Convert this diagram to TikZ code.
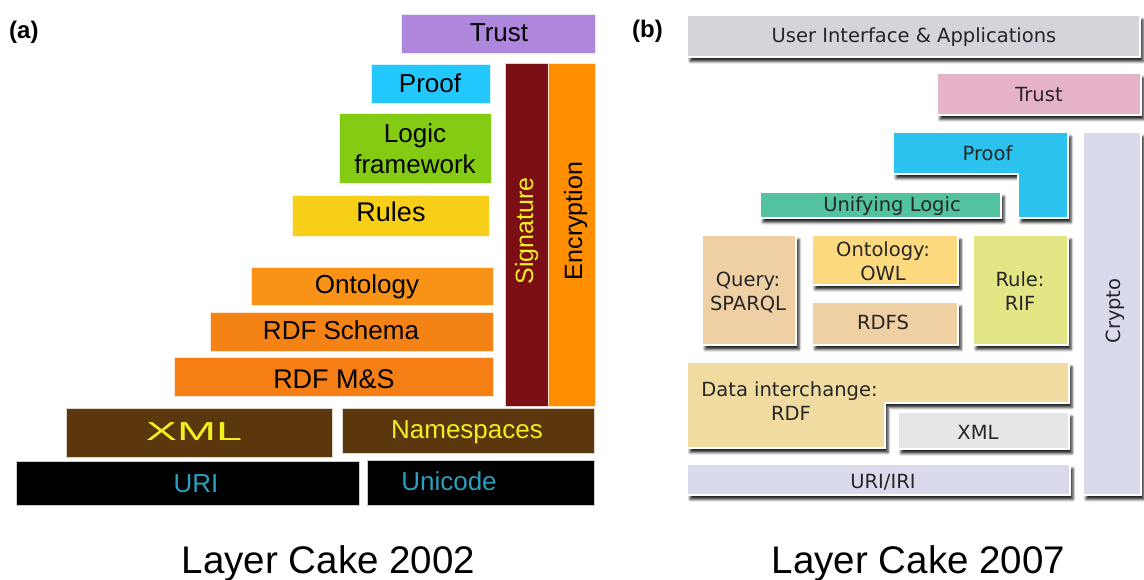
\documentclass[tikz,border=0pt]{standalone}
\usepackage{fontspec}
\setmainfont{Liberation Sans}
\newfontfamily\verd{DejaVu Sans}
\usetikzlibrary{shadows.blur}

% 2002 stack colours
\definecolor{aTrust}{HTML}{AE86DB}
\definecolor{aProof}{HTML}{21C7FD}
\definecolor{aLogic}{HTML}{84CC14}
\definecolor{aRules}{HTML}{F8CF18}
\definecolor{aOnto}{HTML}{F89318}
\definecolor{aRdfs}{HTML}{F58215}
\definecolor{aRdfms}{HTML}{F57F14}
\definecolor{aSig}{HTML}{7C0E16}
\definecolor{aEnc}{HTML}{FF8E00}
\definecolor{aBrown}{HTML}{5C360D}
\definecolor{aYel}{HTML}{F0F020}
\definecolor{aTeal}{HTML}{2A9FC0}
% 2007 stack colours
\definecolor{bUI}{HTML}{D4D4DA}
\definecolor{bTrust}{HTML}{E6B2C8}
\definecolor{bProof}{HTML}{2CC2EE}
\definecolor{bLogic}{HTML}{52C2A0}
\definecolor{bQuery}{HTML}{EFD0A4}
\definecolor{bOwl}{HTML}{FDDA80}
\definecolor{bRdfs}{HTML}{EFD0A2}
\definecolor{bRif}{HTML}{E3E685}
\definecolor{bRdf}{HTML}{F0DCA0}
\definecolor{bXml}{HTML}{E6E6E6}
\definecolor{bUri}{HTML}{D9DAEC}

\begin{document}
\begin{tikzpicture}[x=1pt,y=-1pt,
  abox/.style={fill=#1, draw=white!80!#1, line width=0.7pt},
  bbox/.style={fill=#1, draw=white, line width=1.4pt,
    blur shadow={shadow xshift=3pt, shadow yshift=-4.5pt,
      shadow blur radius=2.5pt, shadow opacity=85}},
  atxt/.style={anchor=base, inner sep=0pt, align=center,
    font=\fontsize{26}{31}\selectfont},
  btxt/.style={anchor=base, inner sep=0pt, align=center,
    font=\verd\fontsize{19.5}{23.3}\selectfont, text=black!85},
  caption/.style={anchor=base, inner sep=0pt,
    font=\fontsize{38.5}{42}\selectfont},
  tag/.style={anchor=base west, inner sep=0pt,
    font=\bfseries\fontsize{24}{27}\selectfont}
]
\useasboundingbox (0,0) rectangle (1144,580);

% ---------- Layer Cake 2002 ----------
\path[abox=aTrust]  (401,14)  rectangle (595,53);
\path[abox=aProof]  (371,64)  rectangle (490,103);
\path[abox=aLogic]  (339,113) rectangle (491,183);
\path[abox=aRules]  (292,195) rectangle (489,236);
\path[abox=aOnto]   (251,267) rectangle (493,305);
\path[abox=aRdfs]   (210,312) rectangle (493,351);
\path[abox=aRdfms]  (174,357) rectangle (493,396);
\path[abox=aSig]    (505,63)  rectangle (548,406);
\path[abox=aEnc]    (548,63)  rectangle (595,406);
\path[abox=aBrown]  (66,408)  rectangle (332,457);
\path[abox=aBrown]  (342,408) rectangle (594,453);
\path[abox=black]   (16,461)  rectangle (359,505);
\path[abox=black]   (367,460) rectangle (594,505);

\node[tag] (tagA) at (9,38.5) {(a)};
\node[atxt] (aTrustT) at (499,41.7) {Trust};
\node[atxt] (aProofT) at (430,92.7) {Proof};
\node[atxt] (aLogicT) at (415,142.7) {Logic};
\node[atxt] (aFrameT) at (415,173.3) {framework};
\node[atxt, font=\fontsize{27}{31}\selectfont] (aRulesT) at (391,221.7) {Rules};
\node[atxt] (aOntoT) at (367,294) {Ontology};
\node[atxt] (aRdfsT) at (341,339.3) {RDF Schema};
\node[atxt, font=\fontsize{27}{31}\selectfont] (aRdfmsT) at (334,388.3) {RDF M\&S};
\node[atxt, text=aYel] (aXmlT) at (194,440.7) {\scalebox{1.8}[1]{XML}};
\node[atxt, text=aYel] (aNsT) at (467,438.3) {Namespaces};
\node[atxt, text=aTeal] (aUriT) at (196,492.7) {URI};
\node[atxt, text=aTeal] (aUniT) at (449,490) {Unicode};
\node[atxt, text=aYel, rotate=90, font=\fontsize{25}{30}\selectfont] (aSigT) at (533,231) {Signature};
\node[atxt, rotate=90, font=\fontsize{25}{30}\selectfont] (aEncT) at (582,221) {Encryption};

\node[caption] (capA) at (328.5,573) {Layer Cake 2002};

% ---------- Layer Cake 2007 ----------
\path[bbox=bUI]    (687,15)  rectangle (1140,57);
\path[bbox=bTrust] (937,73)  rectangle (1141,115);
\path[bbox=bUri]   (1083,132) rectangle (1141,495);
\path[bbox=bProof] (893,132) -- (1068,132) -- (1068,218) -- (1018,218)
                   -- (1018,174) -- (893,174) -- cycle;
\path[bbox=bLogic] (760,192) rectangle (1001,218);
\path[bbox=bQuery] (702,235) rectangle (796,345);
\path[bbox=bOwl]   (812,235) rectangle (958,285);
\path[bbox=bRdfs]  (812,302) rectangle (958,345);
\path[bbox=bRif]   (973,235) rectangle (1068,345);
\path[bbox=bRdf]   (687,362) -- (1069,362) -- (1069,403) -- (885,403)
                   -- (885,448) -- (687,448) -- cycle;
\path[bbox=bXml]   (898,412) rectangle (1069,449);
\path[bbox=bUri]   (687,464) rectangle (1070,495);

\node[tag] (tagB) at (632,37.5) {(b)};
\node[btxt] (bUIT) at (914,42.7) {User Interface \& Applications};
\node[btxt] (bTrustT) at (1039,101.7) {Trust};
\node[btxt] (bProofT) at (987.5,161) {Proof};
\node[btxt] (bLogicT) at (892,212) {Unifying Logic};
\node[btxt] (bOwlT) at (883,256.7) {Ontology:};
\node[btxt] (bOwl2T) at (883,280) {OWL};
\node[btxt] (bQueryT) at (748,286.7) {Query:};
\node[btxt] (bQuery2T) at (748,310) {SPARQL};
\node[btxt] (bRdfsT) at (883,330) {RDFS};
\node[btxt] (bRifT) at (1020,286.7) {Rule:};
\node[btxt] (bRif2T) at (1020,310) {RIF};
\node[btxt] (bRdfT) at (789.5,396.7) {Data interchange:};
\node[btxt] (bRdf2T) at (791,420) {RDF};
\node[btxt] (bXmlT) at (978,439.3) {XML};
\node[btxt] (bUriT) at (883,488.3) {URI/IRI};
\node[btxt, rotate=90] (bCryptoT) at (1120,311) {Crypto};

\node[caption] (capB) at (918.5,573) {Layer Cake 2007};
\end{tikzpicture}
\end{document}
